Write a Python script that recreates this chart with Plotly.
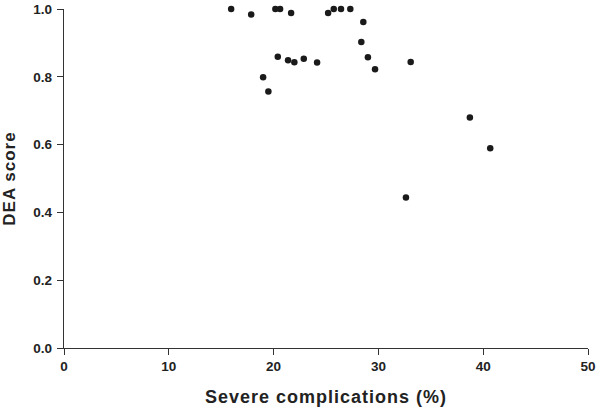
import plotly.graph_objects as go

complications = [15.95, 17.86, 20.17, 20.62, 21.67, 25.2, 25.74, 26.43, 27.32, 28.56,
                 28.37, 29.0, 29.68, 33.08, 20.4, 21.38, 21.98, 22.88, 24.15, 19.0,
                 19.5, 38.73, 40.67, 32.63]
dea_score = [1.0, 0.984, 1.0, 1.0, 0.988, 0.988, 1.0, 1.0, 1.0, 0.962,
             0.903, 0.858, 0.822, 0.844, 0.859, 0.849, 0.843, 0.853, 0.842, 0.799,
             0.757, 0.680, 0.589, 0.444]

x_ticks = [0, 10, 20, 30, 40, 50]
y_ticks = [0.0, 0.2, 0.4, 0.6, 0.8, 1.0]
y_tick_labels = ["0.0", "0.2", "0.4", "0.6", "0.8", "1.0"]

fig = go.Figure(go.Scatter(
    x=complications, y=dea_score, mode="markers",
    marker=dict(size=6.5, color="#1a1a1a"),
    cliponaxis=False,
))

font_main = "Liberation Sans, Arial, sans-serif"
fig.update_layout(
    width=600, height=411,
    margin=dict(l=64, r=12, t=9, b=63),
    paper_bgcolor="white", plot_bgcolor="white",
    showlegend=False,
    font=dict(family=font_main, color="#222222"),
    xaxis=dict(
        range=[0, 50], tickvals=x_ticks, ticktext=[str(v) for v in x_ticks],
        automargin=False,
        showgrid=False, zeroline=False, showline=True, linecolor="#333333", linewidth=1.3,
        ticks="outside", ticklen=6, tickwidth=1.3, tickcolor="#333333",
        tickfont=dict(size=13.5, family=font_main, weight="bold", color="#222222"),
        title=dict(text='<span style="letter-spacing:1px">Severe complications (%)</span>',
                   standoff=17,
                   font=dict(size=18, family=font_main, weight="bold", color="#222222")),
    ),
    yaxis=dict(
        range=[0, 1.0], tickvals=y_ticks, ticktext=y_tick_labels,
        automargin=False,
        showgrid=False, zeroline=False, showline=True, linecolor="#333333", linewidth=1.3,
        ticks="outside", ticklen=6, tickwidth=1.3, tickcolor="#333333",
        tickfont=dict(size=13.5, family=font_main, weight="bold", color="#222222"),
        ticklabelstandoff=2,
        title=dict(text='<span style="letter-spacing:1px">DEA score</span>', standoff=13,
                   font=dict(size=17, family=font_main, weight="bold", color="#222222")),
    ),
)

fig.write_html("out.html", config={"displayModeBar": False},
               post_script="document.body.style.margin='0';")
